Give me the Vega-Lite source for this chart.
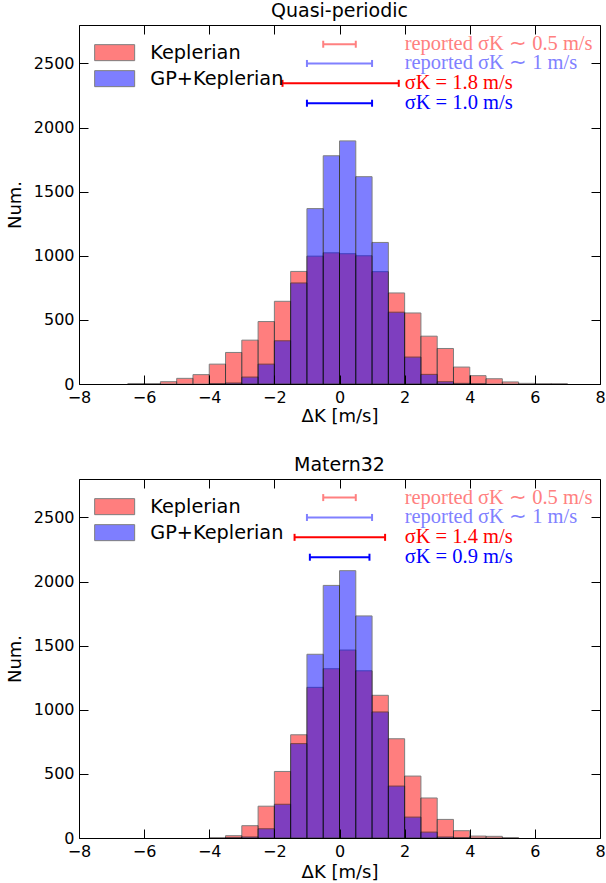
{
  "$schema": "https://vega.github.io/schema/vega-lite/v6.json",
  "padding": {"left": 5, "right": 2, "top": 1, "bottom": 2},
  "spacing": 29,
  "datasets": {
    "hist": [
      {"panel": "Quasi-periodic", "series": "Keplerian", "x0": -6.5, "x1": -6.0, "count": 4},
      {"panel": "Quasi-periodic", "series": "Keplerian", "x0": -6.0, "x1": -5.5, "count": 3},
      {"panel": "Quasi-periodic", "series": "Keplerian", "x0": -5.5, "x1": -5.0, "count": 18},
      {"panel": "Quasi-periodic", "series": "Keplerian", "x0": -5.0, "x1": -4.5, "count": 44},
      {"panel": "Quasi-periodic", "series": "Keplerian", "x0": -4.5, "x1": -4.0, "count": 73},
      {"panel": "Quasi-periodic", "series": "Keplerian", "x0": -4.0, "x1": -3.5, "count": 155},
      {"panel": "Quasi-periodic", "series": "Keplerian", "x0": -3.5, "x1": -3.0, "count": 246},
      {"panel": "Quasi-periodic", "series": "Keplerian", "x0": -3.0, "x1": -2.5, "count": 342},
      {"panel": "Quasi-periodic", "series": "Keplerian", "x0": -2.5, "x1": -2.0, "count": 487},
      {"panel": "Quasi-periodic", "series": "Keplerian", "x0": -2.0, "x1": -1.5, "count": 645},
      {"panel": "Quasi-periodic", "series": "Keplerian", "x0": -1.5, "x1": -1.0, "count": 878},
      {"panel": "Quasi-periodic", "series": "Keplerian", "x0": -1.0, "x1": -0.5, "count": 997},
      {"panel": "Quasi-periodic", "series": "Keplerian", "x0": -0.5, "x1": 0.0, "count": 1023},
      {"panel": "Quasi-periodic", "series": "Keplerian", "x0": 0.0, "x1": 0.5, "count": 1016},
      {"panel": "Quasi-periodic", "series": "Keplerian", "x0": 0.5, "x1": 1.0, "count": 1000},
      {"panel": "Quasi-periodic", "series": "Keplerian", "x0": 1.0, "x1": 1.5, "count": 876},
      {"panel": "Quasi-periodic", "series": "Keplerian", "x0": 1.5, "x1": 2.0, "count": 710},
      {"panel": "Quasi-periodic", "series": "Keplerian", "x0": 2.0, "x1": 2.5, "count": 554},
      {"panel": "Quasi-periodic", "series": "Keplerian", "x0": 2.5, "x1": 3.0, "count": 373},
      {"panel": "Quasi-periodic", "series": "Keplerian", "x0": 3.0, "x1": 3.5, "count": 277},
      {"panel": "Quasi-periodic", "series": "Keplerian", "x0": 3.5, "x1": 4.0, "count": 132},
      {"panel": "Quasi-periodic", "series": "Keplerian", "x0": 4.0, "x1": 4.5, "count": 65},
      {"panel": "Quasi-periodic", "series": "Keplerian", "x0": 4.5, "x1": 5.0, "count": 41},
      {"panel": "Quasi-periodic", "series": "Keplerian", "x0": 5.0, "x1": 5.5, "count": 16},
      {"panel": "Quasi-periodic", "series": "Keplerian", "x0": 5.5, "x1": 6.0, "count": 5},
      {"panel": "Quasi-periodic", "series": "Keplerian", "x0": 6.0, "x1": 6.5, "count": 2},
      {"panel": "Quasi-periodic", "series": "Keplerian", "x0": 6.5, "x1": 7.0, "count": 2},
      {"panel": "Quasi-periodic", "series": "GP+Keplerian", "x0": -4.0, "x1": -3.5, "count": 2},
      {"panel": "Quasi-periodic", "series": "GP+Keplerian", "x0": -3.5, "x1": -3.0, "count": 8},
      {"panel": "Quasi-periodic", "series": "GP+Keplerian", "x0": -3.0, "x1": -2.5, "count": 54},
      {"panel": "Quasi-periodic", "series": "GP+Keplerian", "x0": -2.5, "x1": -2.0, "count": 155},
      {"panel": "Quasi-periodic", "series": "GP+Keplerian", "x0": -2.0, "x1": -1.5, "count": 337},
      {"panel": "Quasi-periodic", "series": "GP+Keplerian", "x0": -1.5, "x1": -1.0, "count": 788},
      {"panel": "Quasi-periodic", "series": "GP+Keplerian", "x0": -1.0, "x1": -0.5, "count": 1368},
      {"panel": "Quasi-periodic", "series": "GP+Keplerian", "x0": -0.5, "x1": 0.0, "count": 1780},
      {"panel": "Quasi-periodic", "series": "GP+Keplerian", "x0": 0.0, "x1": 0.5, "count": 1896},
      {"panel": "Quasi-periodic", "series": "GP+Keplerian", "x0": 0.5, "x1": 1.0, "count": 1617},
      {"panel": "Quasi-periodic", "series": "GP+Keplerian", "x0": 1.0, "x1": 1.5, "count": 1104},
      {"panel": "Quasi-periodic", "series": "GP+Keplerian", "x0": 1.5, "x1": 2.0, "count": 560},
      {"panel": "Quasi-periodic", "series": "GP+Keplerian", "x0": 2.0, "x1": 2.5, "count": 210},
      {"panel": "Quasi-periodic", "series": "GP+Keplerian", "x0": 2.5, "x1": 3.0, "count": 75},
      {"panel": "Quasi-periodic", "series": "GP+Keplerian", "x0": 3.0, "x1": 3.5, "count": 18},
      {"panel": "Quasi-periodic", "series": "GP+Keplerian", "x0": 3.5, "x1": 4.0, "count": 5},
      {"panel": "Quasi-periodic", "series": "GP+Keplerian", "x0": 4.0, "x1": 4.5, "count": 1},
      {"panel": "Matern32", "series": "Keplerian", "x0": -4.0, "x1": -3.5, "count": 2},
      {"panel": "Matern32", "series": "Keplerian", "x0": -3.5, "x1": -3.0, "count": 18},
      {"panel": "Matern32", "series": "Keplerian", "x0": -3.0, "x1": -2.5, "count": 96},
      {"panel": "Matern32", "series": "Keplerian", "x0": -2.5, "x1": -2.0, "count": 248},
      {"panel": "Matern32", "series": "Keplerian", "x0": -2.0, "x1": -1.5, "count": 519},
      {"panel": "Matern32", "series": "Keplerian", "x0": -1.5, "x1": -1.0, "count": 805},
      {"panel": "Matern32", "series": "Keplerian", "x0": -1.0, "x1": -0.5, "count": 1175},
      {"panel": "Matern32", "series": "Keplerian", "x0": -0.5, "x1": 0.0, "count": 1320},
      {"panel": "Matern32", "series": "Keplerian", "x0": 0.0, "x1": 0.5, "count": 1466},
      {"panel": "Matern32", "series": "Keplerian", "x0": 0.5, "x1": 1.0, "count": 1304},
      {"panel": "Matern32", "series": "Keplerian", "x0": 1.0, "x1": 1.5, "count": 1113},
      {"panel": "Matern32", "series": "Keplerian", "x0": 1.5, "x1": 2.0, "count": 774},
      {"panel": "Matern32", "series": "Keplerian", "x0": 2.0, "x1": 2.5, "count": 483},
      {"panel": "Matern32", "series": "Keplerian", "x0": 2.5, "x1": 3.0, "count": 312},
      {"panel": "Matern32", "series": "Keplerian", "x0": 3.0, "x1": 3.5, "count": 145},
      {"panel": "Matern32", "series": "Keplerian", "x0": 3.5, "x1": 4.0, "count": 57},
      {"panel": "Matern32", "series": "Keplerian", "x0": 4.0, "x1": 4.5, "count": 15},
      {"panel": "Matern32", "series": "Keplerian", "x0": 4.5, "x1": 5.0, "count": 13},
      {"panel": "Matern32", "series": "Keplerian", "x0": 5.0, "x1": 5.5, "count": 3},
      {"panel": "Matern32", "series": "GP+Keplerian", "x0": -3.5, "x1": -3.0, "count": 2},
      {"panel": "Matern32", "series": "GP+Keplerian", "x0": -3.0, "x1": -2.5, "count": 8},
      {"panel": "Matern32", "series": "GP+Keplerian", "x0": -2.5, "x1": -2.0, "count": 72},
      {"panel": "Matern32", "series": "GP+Keplerian", "x0": -2.0, "x1": -1.5, "count": 263},
      {"panel": "Matern32", "series": "GP+Keplerian", "x0": -1.5, "x1": -1.0, "count": 736},
      {"panel": "Matern32", "series": "GP+Keplerian", "x0": -1.0, "x1": -0.5, "count": 1433},
      {"panel": "Matern32", "series": "GP+Keplerian", "x0": -0.5, "x1": 0.0, "count": 1970},
      {"panel": "Matern32", "series": "GP+Keplerian", "x0": 0.0, "x1": 0.5, "count": 2085},
      {"panel": "Matern32", "series": "GP+Keplerian", "x0": 0.5, "x1": 1.0, "count": 1732},
      {"panel": "Matern32", "series": "GP+Keplerian", "x0": 1.0, "x1": 1.5, "count": 983},
      {"panel": "Matern32", "series": "GP+Keplerian", "x0": 1.5, "x1": 2.0, "count": 405},
      {"panel": "Matern32", "series": "GP+Keplerian", "x0": 2.0, "x1": 2.5, "count": 163},
      {"panel": "Matern32", "series": "GP+Keplerian", "x0": 2.5, "x1": 3.0, "count": 46},
      {"panel": "Matern32", "series": "GP+Keplerian", "x0": 3.0, "x1": 3.5, "count": 8},
      {"panel": "Matern32", "series": "GP+Keplerian", "x0": 3.5, "x1": 4.0, "count": 2}
    ],
    "ann": [
      {"panel": "Quasi-periodic", "key": "a", "label": "reported σK ∼ 0.5 m/s", "lo": -0.5, "hi": 0.5, "yv": 2650},
      {"panel": "Quasi-periodic", "key": "b", "label": "reported σK ∼ 1 m/s", "lo": -1.0, "hi": 1.0, "yv": 2500},
      {"panel": "Quasi-periodic", "key": "c", "label": "σK = 1.8 m/s", "lo": -1.75, "hi": 1.82, "yv": 2345},
      {"panel": "Quasi-periodic", "key": "d", "label": "σK = 1.0 m/s", "lo": -1.0, "hi": 1.0, "yv": 2190},
      {"panel": "Matern32", "key": "a", "label": "reported σK ∼ 0.5 m/s", "lo": -0.5, "hi": 0.5, "yv": 2655},
      {"panel": "Matern32", "key": "b", "label": "reported σK ∼ 1 m/s", "lo": -1.0, "hi": 1.0, "yv": 2500},
      {"panel": "Matern32", "key": "c", "label": "σK = 1.4 m/s", "lo": -1.38, "hi": 1.40, "yv": 2345},
      {"panel": "Matern32", "key": "d", "label": "σK = 0.9 m/s", "lo": -0.91, "hi": 0.92, "yv": 2190}
    ]
  },
  "vconcat": [
    {
      "title": "Quasi-periodic",
      "width": 521,
      "height": 359,
      "resolve": {"axis": {"x": "independent", "y": "independent"}},
      "layer": [
        {
          "data": {"name": "hist"},
          "transform": [{"filter": "datum.panel === 'Quasi-periodic' && datum.series === 'Keplerian'"}],
          "mark": {"type": "bar", "opacity": 0.5, "stroke": "black", "strokeWidth": 1},
          "encoding": {
            "x": {"field": "x0", "type": "quantitative", "scale": {"domain": [-8, 8], "nice": false, "padding": 0}, "axis": {"orient": "bottom", "values": [-8, -6, -4, -2, 0, 2, 4, 6, 8], "title": "ΔK [m/s]", "ticks": false, "tickSize": 0, "labelPadding": 5}},
            "x2": {"field": "x1"},
            "y": {"field": "count", "type": "quantitative", "stack": null, "scale": {"domain": [0, 2800], "nice": false, "padding": 0}, "axis": {"orient": "left", "values": [0, 500, 1000, 1500, 2000, 2500], "format": "d", "title": "Num.", "ticks": false, "tickSize": 0, "labelPadding": 5, "titlePadding": 9}},
            "y2": {"datum": 0},
            "color": {"field": "series", "type": "nominal", "scale": {"domain": ["Keplerian", "GP+Keplerian"], "range": ["#FF0000", "#0000FF"]},
              "legend": {"title": null, "orient": "none", "legendX": 26, "legendY": 18, "symbolType": "M-2.5,-1H2.5V1H-2.5Z", "symbolSize": 256, "symbolOpacity": 0.5, "symbolStrokeColor": "black", "symbolStrokeWidth": 1, "labelFontSize": 19.3, "labelOffset": 26, "rowPadding": 5, "padding": 0, "labelColor": "black"}}
          }
        },
        {
          "data": {"name": "hist"},
          "transform": [{"filter": "datum.panel === 'Quasi-periodic' && datum.series === 'GP+Keplerian'"}],
          "mark": {"type": "bar", "opacity": 0.5, "stroke": "black", "strokeWidth": 1},
          "encoding": {
            "x": {"field": "x0", "type": "quantitative", "scale": {"domain": [-8, 8], "nice": false, "padding": 0}, "axis": {"orient": "bottom", "values": [-8, -6, -4, -2, 0, 2, 4, 6, 8], "labels": false, "title": null, "offset": -9, "tickSize": 9, "zindex": 1}},
            "x2": {"field": "x1"},
            "y": {"field": "count", "type": "quantitative", "stack": null, "scale": {"domain": [0, 2800], "nice": false, "padding": 0}, "axis": {"orient": "left", "values": [0, 500, 1000, 1500, 2000, 2500], "labels": false, "title": null, "offset": -9, "tickSize": 9, "zindex": 1}},
            "y2": {"datum": 0},
            "color": {"field": "series", "type": "nominal", "scale": {"domain": ["Keplerian", "GP+Keplerian"], "range": ["#FF0000", "#0000FF"]}}
          }
        },
        {
          "data": {"name": "ann"},
          "transform": [{"filter": "datum.panel === 'Quasi-periodic'"}],
          "mark": {"type": "rule", "strokeWidth": 2},
          "encoding": {
            "x": {"field": "lo", "type": "quantitative", "scale": {"domain": [-8, 8], "nice": false, "padding": 0}, "axis": {"orient": "top", "values": [-8, -6, -4, -2, 0, 2, 4, 6, 8], "labels": false, "title": null, "offset": -9, "tickSize": 9, "zindex": 1}},
            "x2": {"field": "hi"},
            "y": {"field": "yv", "type": "quantitative", "scale": {"domain": [0, 2800], "nice": false, "padding": 0}, "axis": {"orient": "right", "values": [0, 500, 1000, 1500, 2000, 2500], "labels": false, "title": null, "offset": -9, "tickSize": 9, "zindex": 1}},
            "stroke": {"field": "key", "type": "nominal", "scale": {"domain": ["a", "b", "c", "d"], "range": ["#FF8080", "#8080FF", "#FF0000", "#0000FF"]}, "legend": null}
          }
        },
        {
          "data": {"name": "ann"},
          "transform": [{"filter": "datum.panel === 'Quasi-periodic'"}, {"fold": ["lo", "hi"], "as": ["end", "xe"]}],
          "mark": {"type": "tick", "orient": "vertical", "size": 7, "thickness": 2, "opacity": 1},
          "encoding": {
            "x": {"field": "xe", "type": "quantitative", "scale": {"domain": [-8, 8], "nice": false, "padding": 0}, "axis": null},
            "y": {"field": "yv", "type": "quantitative", "scale": {"domain": [0, 2800], "nice": false, "padding": 0}, "axis": null},
            "fill": {"field": "key", "type": "nominal", "scale": {"domain": ["a", "b", "c", "d"], "range": ["#FF8080", "#8080FF", "#FF0000", "#0000FF"]}, "legend": null}
          }
        },
        {
          "data": {"name": "ann"},
          "transform": [{"filter": "datum.panel === 'Quasi-periodic'"}],
          "mark": {"type": "text", "align": "left", "baseline": "middle", "font": "Liberation Serif", "fontSize": 20.5},
          "encoding": {
            "x": {"datum": 2, "type": "quantitative", "scale": {"domain": [-8, 8], "nice": false, "padding": 0}, "axis": null},
            "y": {"field": "yv", "type": "quantitative", "scale": {"domain": [0, 2800], "nice": false, "padding": 0}, "axis": null},
            "text": {"field": "label"},
            "fill": {"field": "key", "type": "nominal", "scale": {"domain": ["a", "b", "c", "d"], "range": ["#FF8080", "#8080FF", "#FF0000", "#0000FF"]}, "legend": null}
          }
        }
      ]
    },
    {
      "title": "Matern32",
      "width": 521,
      "height": 359,
      "resolve": {"axis": {"x": "independent", "y": "independent"}},
      "layer": [
        {
          "data": {"name": "hist"},
          "transform": [{"filter": "datum.panel === 'Matern32' && datum.series === 'Keplerian'"}],
          "mark": {"type": "bar", "opacity": 0.5, "stroke": "black", "strokeWidth": 1},
          "encoding": {
            "x": {"field": "x0", "type": "quantitative", "scale": {"domain": [-8, 8], "nice": false, "padding": 0}, "axis": {"orient": "bottom", "values": [-8, -6, -4, -2, 0, 2, 4, 6, 8], "title": "ΔK [m/s]", "ticks": false, "tickSize": 0, "labelPadding": 5, "titlePadding": 4}},
            "x2": {"field": "x1"},
            "y": {"field": "count", "type": "quantitative", "stack": null, "scale": {"domain": [0, 2800], "nice": false, "padding": 0}, "axis": {"orient": "left", "values": [0, 500, 1000, 1500, 2000, 2500], "format": "d", "title": "Num.", "ticks": false, "tickSize": 0, "labelPadding": 5, "titlePadding": 9}},
            "y2": {"datum": 0},
            "color": {"field": "series", "type": "nominal", "scale": {"domain": ["Keplerian", "GP+Keplerian"], "range": ["#FF0000", "#0000FF"]},
              "legend": {"title": null, "orient": "none", "legendX": 26, "legendY": 18, "symbolType": "M-2.5,-1H2.5V1H-2.5Z", "symbolSize": 256, "symbolOpacity": 0.5, "symbolStrokeColor": "black", "symbolStrokeWidth": 1, "labelFontSize": 19.3, "labelOffset": 26, "rowPadding": 5, "padding": 0, "labelColor": "black"}}
          }
        },
        {
          "data": {"name": "hist"},
          "transform": [{"filter": "datum.panel === 'Matern32' && datum.series === 'GP+Keplerian'"}],
          "mark": {"type": "bar", "opacity": 0.5, "stroke": "black", "strokeWidth": 1},
          "encoding": {
            "x": {"field": "x0", "type": "quantitative", "scale": {"domain": [-8, 8], "nice": false, "padding": 0}, "axis": {"orient": "bottom", "values": [-8, -6, -4, -2, 0, 2, 4, 6, 8], "labels": false, "title": null, "offset": -9, "tickSize": 9, "zindex": 1}},
            "x2": {"field": "x1"},
            "y": {"field": "count", "type": "quantitative", "stack": null, "scale": {"domain": [0, 2800], "nice": false, "padding": 0}, "axis": {"orient": "left", "values": [0, 500, 1000, 1500, 2000, 2500], "labels": false, "title": null, "offset": -9, "tickSize": 9, "zindex": 1}},
            "y2": {"datum": 0},
            "color": {"field": "series", "type": "nominal", "scale": {"domain": ["Keplerian", "GP+Keplerian"], "range": ["#FF0000", "#0000FF"]}}
          }
        },
        {
          "data": {"name": "ann"},
          "transform": [{"filter": "datum.panel === 'Matern32'"}],
          "mark": {"type": "rule", "strokeWidth": 2},
          "encoding": {
            "x": {"field": "lo", "type": "quantitative", "scale": {"domain": [-8, 8], "nice": false, "padding": 0}, "axis": {"orient": "top", "values": [-8, -6, -4, -2, 0, 2, 4, 6, 8], "labels": false, "title": null, "offset": -9, "tickSize": 9, "zindex": 1}},
            "x2": {"field": "hi"},
            "y": {"field": "yv", "type": "quantitative", "scale": {"domain": [0, 2800], "nice": false, "padding": 0}, "axis": {"orient": "right", "values": [0, 500, 1000, 1500, 2000, 2500], "labels": false, "title": null, "offset": -9, "tickSize": 9, "zindex": 1}},
            "stroke": {"field": "key", "type": "nominal", "scale": {"domain": ["a", "b", "c", "d"], "range": ["#FF8080", "#8080FF", "#FF0000", "#0000FF"]}, "legend": null}
          }
        },
        {
          "data": {"name": "ann"},
          "transform": [{"filter": "datum.panel === 'Matern32'"}, {"fold": ["lo", "hi"], "as": ["end", "xe"]}],
          "mark": {"type": "tick", "orient": "vertical", "size": 7, "thickness": 2, "opacity": 1},
          "encoding": {
            "x": {"field": "xe", "type": "quantitative", "scale": {"domain": [-8, 8], "nice": false, "padding": 0}, "axis": null},
            "y": {"field": "yv", "type": "quantitative", "scale": {"domain": [0, 2800], "nice": false, "padding": 0}, "axis": null},
            "fill": {"field": "key", "type": "nominal", "scale": {"domain": ["a", "b", "c", "d"], "range": ["#FF8080", "#8080FF", "#FF0000", "#0000FF"]}, "legend": null}
          }
        },
        {
          "data": {"name": "ann"},
          "transform": [{"filter": "datum.panel === 'Matern32'"}],
          "mark": {"type": "text", "align": "left", "baseline": "middle", "font": "Liberation Serif", "fontSize": 20.5},
          "encoding": {
            "x": {"datum": 2, "type": "quantitative", "scale": {"domain": [-8, 8], "nice": false, "padding": 0}, "axis": null},
            "y": {"field": "yv", "type": "quantitative", "scale": {"domain": [0, 2800], "nice": false, "padding": 0}, "axis": null},
            "text": {"field": "label"},
            "fill": {"field": "key", "type": "nominal", "scale": {"domain": ["a", "b", "c", "d"], "range": ["#FF8080", "#8080FF", "#FF0000", "#0000FF"]}, "legend": null}
          }
        }
      ]
    }
  ],
  "resolve": {"legend": {"color": "independent"}},
  "config": {
    "font": "DejaVu Sans",
    "background": "white",
    "view": {"stroke": "black", "strokeWidth": 1},
    "axis": {"grid": false, "domain": false, "tickColor": "black", "tickWidth": 1, "labelFontSize": 16, "labelColor": "black", "labelFlush": false, "labelOverlap": false, "labelBound": false, "titleFontSize": 18, "titleFontWeight": "normal", "titleColor": "black", "titlePadding": 2, "titleFont": "DejaVu Sans", "labelFont": "DejaVu Sans"},
    "title": {"fontSize": 19, "fontWeight": "normal", "offset": 4, "color": "black", "font": "DejaVu Sans"},
    "legend": {"labelFont": "DejaVu Sans"}
  }
}
